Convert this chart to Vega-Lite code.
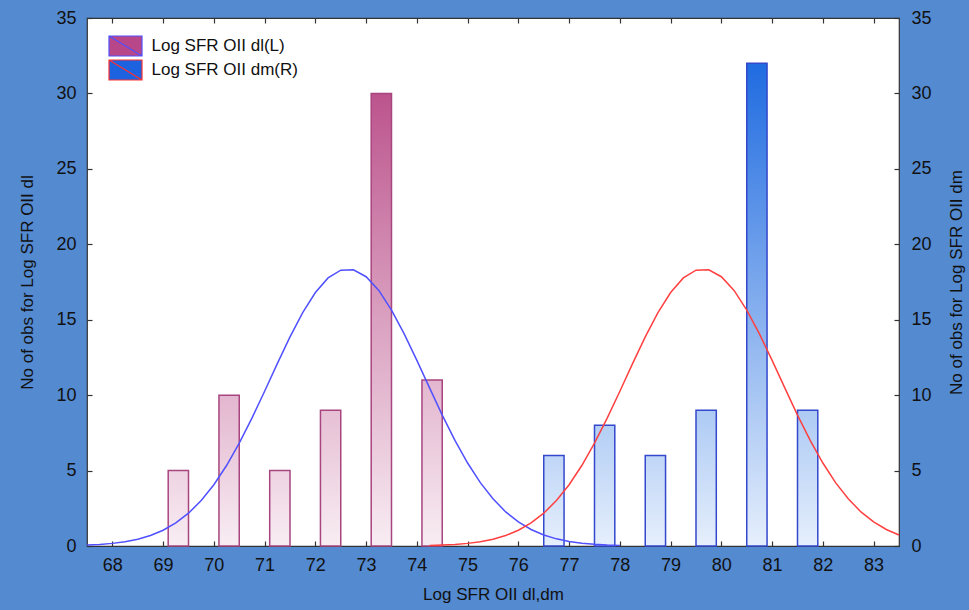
{
  "$schema": "https://vega.github.io/schema/vega-lite/v6.json",
  "width": 812,
  "height": 528,
  "autosize": {"type": "none"},
  "padding": {"left": 87, "top": 18, "right": 70, "bottom": 64},
  "background": "#548ad0",
  "config": {
    "view": {"fill": "white", "stroke": "#333", "strokeWidth": 1.2},
    "font": "Liberation Sans",
    "axis": {
      "labelFont": "Liberation Sans", "labelFontSize": 18, "labelColor": "#111",
      "titleFont": "Liberation Sans", "titleFontSize": 17, "titleFontWeight": "normal", "titleColor": "#111",
      "domain": false, "grid": false, "tickColor": "#333", "tickSize": -5, "tickWidth": 1.2, "labelPadding": 14
    }
  },
  "datasets": {
    "bars": [
      {"series": "L", "label": "Log SFR OII dl(L)", "x0": 69.1, "x1": 69.5, "count": 5},
      {"series": "L", "label": "Log SFR OII dl(L)", "x0": 70.1, "x1": 70.5, "count": 10},
      {"series": "L", "label": "Log SFR OII dl(L)", "x0": 71.1, "x1": 71.5, "count": 5},
      {"series": "L", "label": "Log SFR OII dl(L)", "x0": 72.1, "x1": 72.5, "count": 9},
      {"series": "L", "label": "Log SFR OII dl(L)", "x0": 73.1, "x1": 73.5, "count": 30},
      {"series": "L", "label": "Log SFR OII dl(L)", "x0": 74.1, "x1": 74.5, "count": 11},
      {"series": "R", "label": "Log SFR OII dm(R)", "x0": 76.5, "x1": 76.9, "count": 6},
      {"series": "R", "label": "Log SFR OII dm(R)", "x0": 77.5, "x1": 77.9, "count": 8},
      {"series": "R", "label": "Log SFR OII dm(R)", "x0": 78.5, "x1": 78.9, "count": 6},
      {"series": "R", "label": "Log SFR OII dm(R)", "x0": 79.5, "x1": 79.9, "count": 9},
      {"series": "R", "label": "Log SFR OII dm(R)", "x0": 80.5, "x1": 80.9, "count": 32},
      {"series": "R", "label": "Log SFR OII dm(R)", "x0": 81.5, "x1": 81.9, "count": 9}
    ],
    "curves": [
      {"series": "L", "x": 67.5, "y": 0.06}, {"series": "L", "x": 67.75, "y": 0.104}, {"series": "L", "x": 68.0, "y": 0.174},
      {"series": "L", "x": 68.25, "y": 0.283}, {"series": "L", "x": 68.5, "y": 0.45}, {"series": "L", "x": 68.75, "y": 0.694},
      {"series": "L", "x": 69.0, "y": 1.044}, {"series": "L", "x": 69.25, "y": 1.527}, {"series": "L", "x": 69.5, "y": 2.174},
      {"series": "L", "x": 69.75, "y": 3.013}, {"series": "L", "x": 70.0, "y": 4.063}, {"series": "L", "x": 70.25, "y": 5.334},
      {"series": "L", "x": 70.5, "y": 6.815}, {"series": "L", "x": 70.75, "y": 8.475}, {"series": "L", "x": 71.0, "y": 10.26},
      {"series": "L", "x": 71.25, "y": 12.09}, {"series": "L", "x": 71.5, "y": 13.86}, {"series": "L", "x": 71.75, "y": 15.47},
      {"series": "L", "x": 72.0, "y": 16.8}, {"series": "L", "x": 72.25, "y": 17.77}, {"series": "L", "x": 72.5, "y": 18.28},
      {"series": "L", "x": 72.75, "y": 18.31}, {"series": "L", "x": 73.0, "y": 17.85}, {"series": "L", "x": 73.25, "y": 16.94},
      {"series": "L", "x": 73.5, "y": 15.64}, {"series": "L", "x": 73.75, "y": 14.06}, {"series": "L", "x": 74.0, "y": 12.3},
      {"series": "L", "x": 74.25, "y": 10.48}, {"series": "L", "x": 74.5, "y": 8.68}, {"series": "L", "x": 74.75, "y": 7.0},
      {"series": "L", "x": 75.0, "y": 5.5}, {"series": "L", "x": 75.25, "y": 4.2}, {"series": "L", "x": 75.5, "y": 3.13},
      {"series": "L", "x": 75.75, "y": 2.26}, {"series": "L", "x": 76.0, "y": 1.595}, {"series": "L", "x": 76.25, "y": 1.094},
      {"series": "L", "x": 76.5, "y": 0.731}, {"series": "L", "x": 76.75, "y": 0.474}, {"series": "L", "x": 77.0, "y": 0.3},
      {"series": "L", "x": 77.25, "y": 0.185}, {"series": "L", "x": 77.5, "y": 0.111}, {"series": "L", "x": 77.75, "y": 0.064},
      {"series": "L", "x": 78.0, "y": 0.037},
      {"series": "R", "x": 74.25, "y": 0.034}, {"series": "R", "x": 74.5, "y": 0.06}, {"series": "R", "x": 74.75, "y": 0.104},
      {"series": "R", "x": 75.0, "y": 0.174}, {"series": "R", "x": 75.25, "y": 0.283}, {"series": "R", "x": 75.5, "y": 0.45},
      {"series": "R", "x": 75.75, "y": 0.694}, {"series": "R", "x": 76.0, "y": 1.044}, {"series": "R", "x": 76.25, "y": 1.527},
      {"series": "R", "x": 76.5, "y": 2.174}, {"series": "R", "x": 76.75, "y": 3.013}, {"series": "R", "x": 77.0, "y": 4.063},
      {"series": "R", "x": 77.25, "y": 5.334}, {"series": "R", "x": 77.5, "y": 6.815}, {"series": "R", "x": 77.75, "y": 8.475},
      {"series": "R", "x": 78.0, "y": 10.26}, {"series": "R", "x": 78.25, "y": 12.09}, {"series": "R", "x": 78.5, "y": 13.86},
      {"series": "R", "x": 78.75, "y": 15.47}, {"series": "R", "x": 79.0, "y": 16.8}, {"series": "R", "x": 79.25, "y": 17.77},
      {"series": "R", "x": 79.5, "y": 18.28}, {"series": "R", "x": 79.75, "y": 18.31}, {"series": "R", "x": 80.0, "y": 17.85},
      {"series": "R", "x": 80.25, "y": 16.94}, {"series": "R", "x": 80.5, "y": 15.64}, {"series": "R", "x": 80.75, "y": 14.06},
      {"series": "R", "x": 81.0, "y": 12.3}, {"series": "R", "x": 81.25, "y": 10.48}, {"series": "R", "x": 81.5, "y": 8.68},
      {"series": "R", "x": 81.75, "y": 7.0}, {"series": "R", "x": 82.0, "y": 5.5}, {"series": "R", "x": 82.25, "y": 4.2},
      {"series": "R", "x": 82.5, "y": 3.13}, {"series": "R", "x": 82.75, "y": 2.26}, {"series": "R", "x": 83.0, "y": 1.595},
      {"series": "R", "x": 83.25, "y": 1.094}, {"series": "R", "x": 83.5, "y": 0.731}
    ]
  },
  "layer": [
    {
      "data": {"name": "bars"},
      "mark": {"type": "bar", "strokeWidth": 1.5},
      "encoding": {
        "x": {"field": "x0", "type": "quantitative", "scale": {"domain": [67.5, 83.5], "nice": false, "zero": false},
          "axis": {"orient": "bottom", "values": [68, 69, 70, 71, 72, 73, 74, 75, 76, 77, 78, 79, 80, 81, 82, 83], "title": "Log SFR OII dl,dm", "titlePadding": 12, "labelPadding": 15}},
        "x2": {"field": "x1"},
        "y": {"field": "count", "type": "quantitative", "scale": {"domain": [0, 35], "nice": false},
          "axis": {"orient": "left", "values": [0, 5, 10, 15, 20, 25, 30, 35], "title": "No of obs for Log SFR OII dl", "titlePadding": 19, "labelPadding": 16}},
        "y2": {"datum": 0},
        "fill": {
          "field": "label", "type": "nominal",
          "scale": {"domain": ["Log SFR OII dl(L)", "Log SFR OII dm(R)"], "range": ["#b8478a", "#1d63e0"]},
          "legend": {
            "orient": "none", "legendX": 27.5, "legendY": 17, "title": null,
            "labelFont": "Liberation Sans", "labelFontSize": 17, "labelColor": "#111",
            "symbolType": "M-1.65,-1H1.65V1H-1.65Z M-1.65,-1L1.65,1", "symbolSize": 400, "symbolStrokeWidth": 1.2,
            "labelOffset": 15, "rowPadding": -6, "symbolOpacity": 1,
            "encode": {"symbols": {"update": {"stroke": {"signal": "datum.value === 'Log SFR OII dl(L)' ? '#5050ff' : '#ff3030'"}}}}
          },
          "condition": [
            {"test": "datum.series === 'L' && datum.count >= 30", "value": {"gradient": "linear", "x1": 0, "y1": 0, "x2": 0, "y2": 1, "stops": [{"offset": 0, "color": "#bc548d"}, {"offset": 1, "color": "#f8edf3"}]}},
            {"test": "datum.series === 'L' && datum.count >= 10", "value": {"gradient": "linear", "x1": 0, "y1": 0, "x2": 0, "y2": 1, "stops": [{"offset": 0, "color": "#e3b6cf"}, {"offset": 1, "color": "#f8edf3"}]}},
            {"test": "datum.series === 'L' && datum.count >= 9", "value": {"gradient": "linear", "x1": 0, "y1": 0, "x2": 0, "y2": 1, "stops": [{"offset": 0, "color": "#e6bfd4"}, {"offset": 1, "color": "#f8edf3"}]}},
            {"test": "datum.series === 'L'", "value": {"gradient": "linear", "x1": 0, "y1": 0, "x2": 0, "y2": 1, "stops": [{"offset": 0, "color": "#eed3e2"}, {"offset": 1, "color": "#f8edf3"}]}},
            {"test": "datum.count >= 30", "value": {"gradient": "linear", "x1": 0, "y1": 0, "x2": 0, "y2": 1, "stops": [{"offset": 0, "color": "#1f6be0"}, {"offset": 1, "color": "#e6effc"}]}},
            {"test": "datum.count >= 9", "value": {"gradient": "linear", "x1": 0, "y1": 0, "x2": 0, "y2": 1, "stops": [{"offset": 0, "color": "#adcaf4"}, {"offset": 1, "color": "#e6effc"}]}},
            {"test": "datum.count >= 8", "value": {"gradient": "linear", "x1": 0, "y1": 0, "x2": 0, "y2": 1, "stops": [{"offset": 0, "color": "#b3cef5"}, {"offset": 1, "color": "#e6effc"}]}},
            {"test": "datum.count >= 1", "value": {"gradient": "linear", "x1": 0, "y1": 0, "x2": 0, "y2": 1, "stops": [{"offset": 0, "color": "#c0d6f7"}, {"offset": 1, "color": "#e6effc"}]}}
          ]
        },
        "stroke": {"field": "series", "type": "nominal", "scale": {"domain": ["L", "R"], "range": ["#a8457f", "#3348cc"]}, "legend": null}
      }
    },
    {
      "data": {"name": "curves"},
      "transform": [{"filter": "datum.series === 'L'"}],
      "mark": {"type": "line", "color": "#5050ff", "strokeWidth": 1.5},
      "encoding": {
        "x": {"field": "x", "type": "quantitative", "axis": {"orient": "top", "values": [68, 69, 70, 71, 72, 73, 74, 75, 76, 77, 78, 79, 80, 81, 82, 83], "labels": false, "title": null}},
        "y": {"field": "y", "type": "quantitative", "axis": null}
      }
    },
    {
      "data": {"name": "curves"},
      "transform": [{"filter": "datum.series === 'R'"}],
      "mark": {"type": "line", "color": "#ff4040", "strokeWidth": 1.5},
      "encoding": {
        "x": {"field": "x", "type": "quantitative", "axis": null},
        "y": {"field": "y", "type": "quantitative",
          "axis": {"orient": "right", "values": [0, 5, 10, 15, 20, 25, 30, 35], "title": "No of obs for Log SFR OII dm", "titleAngle": 270, "titlePadding": 34, "labelPadding": 17}}
      }
    }
  ],
  "resolve": {"scale": {"x": "shared", "y": "shared"}, "axis": {"x": "independent", "y": "independent"}}
}
